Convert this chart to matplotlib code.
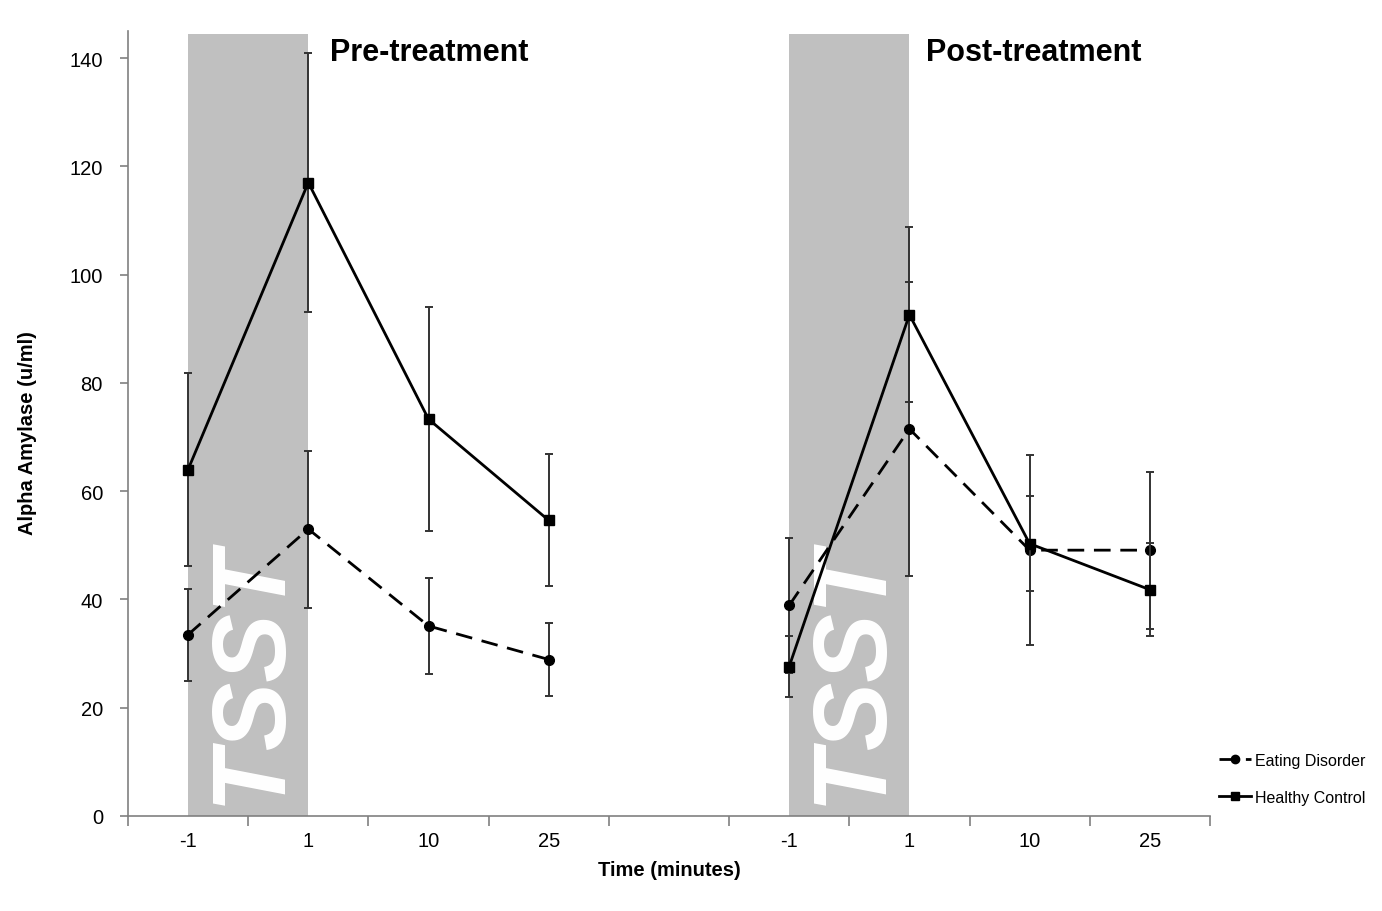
import numpy as np
import matplotlib
matplotlib.use("Agg")
import matplotlib.pyplot as plt
from matplotlib.lines import Line2D

plt.rcParams['font.family'] = ['Liberation Sans', 'DejaVu Sans']

# x categories: two blocks of time points with an empty slot between them
times = ['-1', '1', '10', '25']
categories = times + [''] + times

# Pre-treatment means and error (u/ml)
pre_ed = [33.5, 53.0, 35.1, 28.9]
pre_ed_err = [8.5, 14.5, 8.9, 6.8]
pre_hc = [64.0, 117.0, 73.3, 54.6]
pre_hc_err = [17.9, 23.9, 20.7, 12.2]

# Post-treatment means and error (u/ml)
post_ed = [38.9, 71.5, 49.1, 49.1]
post_ed_err = [12.5, 27.1, 17.5, 14.5]
post_hc = [27.6, 92.6, 50.3, 41.8]
post_hc_err = [5.6, 16.2, 8.8, 8.6]

fig = plt.figure(figsize=(13.82, 9.12), dpi=100)
ax = fig.add_axes([0.0926, 0.1042, 0.7829, 0.8607])

x_pre = np.arange(4)
x_post = np.arange(5, 9)

# TSST shaded blocks from -1 to 1 in each phase
for x0 in (0, 5):
    ax.axvspan(x0, x0 + 1, ymin=0, ymax=144.4 / 145, color='#c0c0c0', lw=0, zorder=1)
    ax.text(x0 + 0.53, 26.5, 'TSST', rotation=90, color='white', fontsize=74,
            fontweight='bold', fontstyle='italic', ha='center', va='center', zorder=2)

ed_style = dict(color='black', lw=2.0, dashes=(6, 3.5), marker='o', ms=7,
                ecolor='#333333', elinewidth=1.4, capsize=3, capthick=1.4, zorder=4)
hc_style = dict(color='black', lw=2.0, ls='-', marker='s', ms=7,
                ecolor='#333333', elinewidth=1.4, capsize=3, capthick=1.4, zorder=5)

ax.errorbar(x_pre, pre_ed, yerr=pre_ed_err, **ed_style)
ax.errorbar(x_pre, pre_hc, yerr=pre_hc_err, **hc_style)
ax.errorbar(x_post, post_ed, yerr=post_ed_err, **ed_style)
ax.errorbar(x_post, post_hc, yerr=post_hc_err, **hc_style)

ax.text(1.18, 141.2, 'Pre-treatment', fontsize=22, fontweight='bold', va='center', ha='left')
ax.text(6.14, 141.2, 'Post-treatment', fontsize=22, fontweight='bold', va='center', ha='left')

ax.set_xlim(-0.5, 8.5)
ax.set_ylim(0, 145)
ax.set_yticks(np.arange(0, 141, 20))
ax.set_xticks(np.arange(len(categories)))
ax.set_xticklabels(categories)
ax.set_xticks(np.arange(-0.5, 9, 1), minor=True)
ax.tick_params(axis='x', which='major', length=0, pad=11, labelsize=14.5)
ax.tick_params(axis='x', which='minor', length=7, color='#808080', width=1.2)
ax.tick_params(axis='y', length=6, color='#808080', width=1.2, pad=12, labelsize=14.5)

for side in ('top', 'right'):
    ax.spines[side].set_visible(False)
for side in ('left', 'bottom'):
    ax.spines[side].set_color('#808080')
    ax.spines[side].set_linewidth(1.2)

ax.set_ylabel('Alpha Amylase (u/ml)', fontsize=14.5, fontweight='bold')
ax.yaxis.set_label_coords(-0.084, 0.489)
ax.set_xlabel('Time (minutes)', fontsize=14.5, fontweight='bold', labelpad=7)

handles = [
    Line2D([], [], color='black', lw=2.0, dashes=(6, 3.5), marker='o', ms=6),
    Line2D([], [], color='black', lw=2.0, ls='-', marker='s', ms=6),
]
fig.legend(handles, ['Eating Disorder', 'Healthy Control'], loc='center left',
           bbox_to_anchor=(0.872, 0.145), frameon=False, fontsize=11.5,
           handlelength=2.0, handletextpad=0.2, labelspacing=1.4)

fig.savefig('out.png', dpi=100)
